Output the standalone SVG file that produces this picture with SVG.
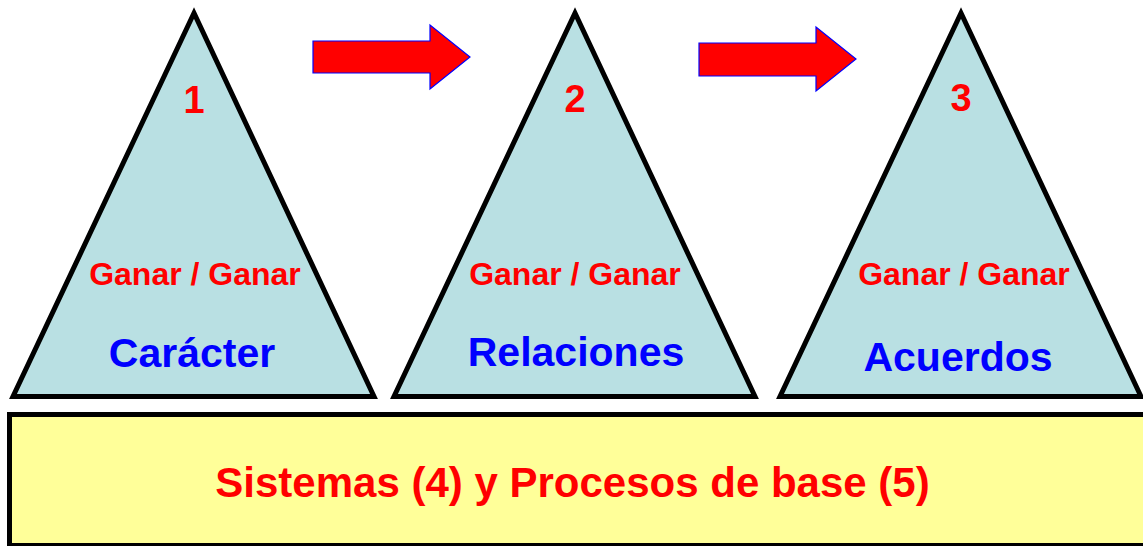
<svg xmlns="http://www.w3.org/2000/svg" width="1143" height="546" viewBox="0 0 1143 546">
<style>
.tri{fill:#B9E0E3;stroke:#000;stroke-width:5;stroke-linejoin:miter;stroke-miterlimit:10}
.arr{fill:#FF0000;stroke:#0000FF;stroke-width:1.2}
.t{font-family:"Liberation Sans",Arial,sans-serif;font-weight:bold;text-anchor:middle}
.num{font-size:38px;fill:#FF0000}
.gg{font-size:32px;fill:#FF0000}
.lbl{font-size:41px;fill:#0000FF}
.base{fill:#FFFF99;stroke:#000;stroke-width:5}
.bt{font-size:42px;fill:#FF0000}
</style>
<rect width="1143" height="546" fill="#FFFFFF"/>
<g id="base">
<rect class="base" x="9.5" y="414.5" width="1140" height="131"/>
<text class="t bt" x="572.5" y="497">Sistemas (4) y Procesos de base (5)</text>
</g>
<g id="node1">
<polygon class="tri" points="194,13 374,396.5 13,396.5"/>
<text class="t num" x="194" y="113">1</text>
<text class="t gg" x="195" y="285">Ganar / Ganar</text>
<text class="t lbl" x="192" y="367">Carácter</text>
</g>
<g id="node2">
<polygon class="tri" points="575,13 755,396.5 394,396.5"/>
<text class="t num" x="575" y="112">2</text>
<text class="t gg" x="575" y="285">Ganar / Ganar</text>
<text class="t lbl" x="576" y="366">Relaciones</text>
</g>
<g id="node3">
<polygon class="tri" points="961,13 1141,396.5 780,396.5"/>
<text class="t num" x="961" y="111">3</text>
<text class="t gg" x="964" y="285">Ganar / Ganar</text>
<text class="t lbl" x="958" y="371">Acuerdos</text>
</g>
<g id="connectors">
<polygon class="arr" points="313,41 430,41 430,25 470,57 430,89 430,73 313,73"/>
<polygon class="arr" points="699,43 816,43 816,27 856,59 816,91 816,76 699,76"/>
</g>
</svg>
